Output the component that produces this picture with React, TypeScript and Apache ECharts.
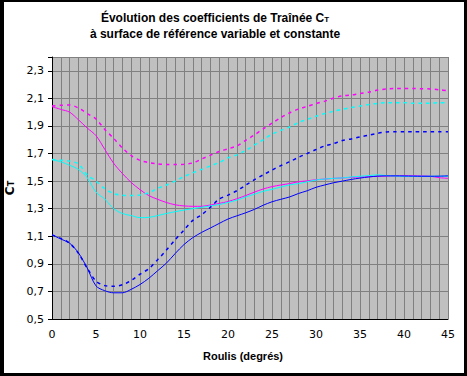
import React, { useEffect, useRef } from "react";
import * as echarts from "echarts";

const roulis = [0,1,2,3,4,5,6,7,8,9,10,11,12,13,14,15,16,17,18,19,20,21,22,23,24,25,26,27,28,29,30,31,32,33,34,35,36,37,38,39,40,41,42,43,44,45];

const magentaDashed = [2.044,2.05,2.052,2.03,1.99,1.95,1.875,1.81,1.74,1.685,1.65,1.635,1.625,1.62,1.62,1.622,1.632,1.66,1.688,1.715,1.734,1.755,1.795,1.835,1.879,1.92,1.96,1.995,2.022,2.042,2.062,2.08,2.102,2.118,2.124,2.136,2.145,2.16,2.168,2.172,2.172,2.172,2.17,2.168,2.162,2.155];
const magentaSolid = [2.04,2.02,2.0,1.945,1.885,1.83,1.73,1.63,1.555,1.49,1.438,1.395,1.368,1.345,1.328,1.32,1.317,1.317,1.327,1.338,1.352,1.372,1.395,1.42,1.443,1.46,1.472,1.482,1.495,1.502,1.51,1.515,1.52,1.523,1.527,1.53,1.532,1.535,1.537,1.538,1.54,1.54,1.538,1.535,1.525,1.52];
const cyanDashed = [1.656,1.652,1.645,1.625,1.545,1.5,1.445,1.41,1.398,1.395,1.4,1.415,1.448,1.472,1.5,1.533,1.56,1.585,1.61,1.635,1.669,1.69,1.722,1.762,1.8,1.84,1.868,1.892,1.925,1.948,1.97,1.99,2.007,2.02,2.033,2.044,2.055,2.064,2.069,2.069,2.069,2.064,2.064,2.065,2.068,2.069];
const cyanSolid = [1.656,1.64,1.615,1.585,1.525,1.42,1.37,1.3,1.265,1.25,1.235,1.237,1.25,1.265,1.278,1.29,1.3,1.31,1.32,1.33,1.345,1.362,1.385,1.405,1.426,1.44,1.457,1.472,1.482,1.495,1.508,1.515,1.52,1.523,1.53,1.535,1.54,1.545,1.54,1.537,1.535,1.535,1.535,1.535,1.535,1.535];
const blueDashed = [1.11,1.085,1.05,0.977,0.869,0.775,0.742,0.737,0.748,0.779,0.825,0.865,0.93,1.0,1.075,1.145,1.215,1.256,1.31,1.37,1.398,1.43,1.47,1.51,1.545,1.58,1.612,1.64,1.672,1.7,1.729,1.755,1.772,1.795,1.806,1.821,1.833,1.847,1.856,1.858,1.858,1.858,1.858,1.858,1.858,1.858];
const blueSolid = [1.11,1.08,1.05,0.98,0.87,0.74,0.705,0.69,0.69,0.715,0.75,0.795,0.85,0.905,0.975,1.04,1.09,1.128,1.16,1.193,1.225,1.248,1.27,1.295,1.325,1.35,1.368,1.385,1.41,1.43,1.455,1.472,1.488,1.5,1.512,1.522,1.53,1.536,1.538,1.538,1.537,1.536,1.535,1.535,1.536,1.538];

const titleLine1 = "Évolution des coefficients de Traînée C";
const titleLine2 = "à surface de référence variable et constante";
const xName = "Roulis (degrés)";

const pair = (vals: number[]) => roulis.map((x, i) => [x, vals[i]]);

export default function App() {
  const ref = useRef<HTMLDivElement>(null);
  useEffect(() => {
    if (!ref.current) return;
    const chart = echarts.init(ref.current, null, { renderer: "svg" });
    const solid = (name: string, color: string, vals: number[]) => ({
      name, type: "line", data: pair(vals), showSymbol: false, smooth: 0.3,
      lineStyle: { color, width: 1, type: "solid" }, itemStyle: { color },
    });
    const dashed = (name: string, color: string, vals: number[]) => ({
      name, type: "line", data: pair(vals), showSymbol: false, smooth: 0.3,
      lineStyle: { color, width: 1.5, type: [3.5, 4] }, itemStyle: { color },
    });
    chart.setOption({
      animation: false,
      backgroundColor: "#ffffff",
      title: {
        text: `{a|${titleLine1}}{s|T}\n{a|${titleLine2}}`,
        left: 211, top: 8, padding: 0, textAlign: "center",
        textStyle: {
          rich: {
            a: { fontFamily: "Liberation Sans", fontWeight: "bold", fontSize: 12, lineHeight: 16, color: "#000" },
            s: { fontFamily: "Liberation Sans", fontWeight: "bold", fontSize: 8, lineHeight: 16, color: "#000", padding: [3, 0, 0, 0] },
          },
        },
      },
      grid: { left: 48, top: 55, right: 16, bottom: 54, show: true, backgroundColor: "#C0C0C0", borderWidth: 0, containLabel: false, outerBoundsMode: "none" },
      xAxis: {
        type: "value", min: 0, max: 45, interval: 5,
        name: xName, nameLocation: "middle", nameGap: 31,
        nameTextStyle: { fontFamily: "Liberation Sans", fontWeight: "bold", fontSize: 11, color: "#000", padding: [0, 14, 0, 0] },
        axisLine: { show: true, onZero: false, lineStyle: { color: "#000", width: 1 } },
        axisTick: { show: false },
        axisLabel: { fontFamily: "DejaVu Sans", fontSize: 11, color: "#000", margin: 10 },
        splitLine: { show: true, lineStyle: { color: "#808080", width: 1 } },
        minorTick: { show: false, splitNumber: 5 },
        minorSplitLine: { show: true, lineStyle: { color: "#808080", width: 1 } },
      },
      yAxis: {
        type: "value", min: 0.5, max: 2.4, interval: 0.2,
        name: "{c|C}{t|T}", nameLocation: "middle", nameGap: 31,
        nameTextStyle: {
          rich: {
            c: { fontFamily: "DejaVu Sans", fontWeight: "bold", fontSize: 12, color: "#000" },
            t: { fontFamily: "DejaVu Sans", fontWeight: "bold", fontSize: 8, color: "#000", padding: [3, 0, 0, 0] },
          },
        },
        axisLine: { show: true, lineStyle: { color: "#000", width: 1 } },
        axisTick: { show: true, length: 4, inside: false, lineStyle: { color: "#000" } },
        axisLabel: {
          fontFamily: "DejaVu Sans", fontSize: 11, color: "#000", margin: 8,
          formatter: (v: number) => (v > 2.35 ? "" : v.toFixed(1).replace(".", ",")),
        },
        splitLine: { show: true, lineStyle: { color: "#808080", width: 1 } },
      },
      series: [
        dashed("CT variable magenta", "#FF00FF", magentaDashed),
        solid("CT constante magenta", "#FF00FF", magentaSolid),
        dashed("CT variable cyan", "#00FFFF", cyanDashed),
        solid("CT constante cyan", "#00FFFF", cyanSolid),
        dashed("CT variable bleu", "#0000FF", blueDashed),
        solid("CT constante bleu", "#0000FF", blueSolid),
      ],
    });
    return () => chart.dispose();
  }, []);
  return (
    <div style={{ position: "fixed", left: 0, top: 0, width: 467, height: 376, background: "#000" }}>
      <div ref={ref} style={{ position: "absolute", left: 4, top: 2, width: 460, height: 371, background: "#fff" }} />
    </div>
  );
}
